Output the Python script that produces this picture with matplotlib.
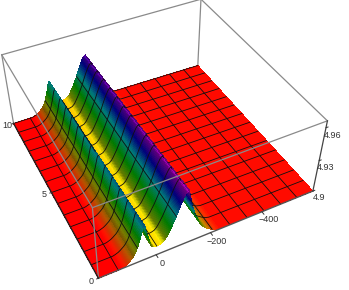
import colorsys
import numpy as np
import matplotlib
matplotlib.use('Agg')
import matplotlib.pyplot as plt

plt.rcParams['font.family'] = 'Liberation Sans'

# profile across the two ridges, z as a fraction of the box height
y_vals = [200, 125, 115, 105, 95, 85, 78, 71, 65, 59, 53, 48, 44, 40, 36, 31, 25, 19, 13, 7, 1, -6,
          -14, -22, -30, -38, -46, -54, -62, -70, -78, -86, -94, -102, -107, -112, -116, -122, -128, -134,
          -140, -146, -154, -162, -170, -178, -188, -198, -210, -226, -610]
z_frac = [0, 0, .01, .025, .05, .08, .11, .15, .20, .26, .33, .40, .45, .47, .42, .34, .25, .17, .135, .125, .12, .12,
          .125, .135, .16, .20, .25, .30, .36, .42, .49, .56, .62, .67, .69, .70, .64, .54, .46, .39,
          .33, .28, .22, .17, .135, .105, .08, .055, .03, .012, 0]
# ridges are a little taller at the front of the box
t_scale_at = [0, 10]
t_scale = [1.08, .97]
# mesh lines across the surface
mesh_y = [132.5, 65, -2.5, -70, -137.5, -205, -272.5, -340, -407.5, -475, -542.5]
mesh_t = [.71, 1.43, 2.14, 2.86, 3.57, 4.29, 5.0, 5.71, 6.43, 7.14, 7.86, 8.57, 9.29, 10]

t_ticks = [0, 5, 10]
y_ticks = [0, -200, -400]
z_ticks = [4.9, 4.93, 4.96]
z_low, z_high = 4.9, 4.966
tl, th, yl, yh = 0, 10, -610, 200
cam = (-16, 664, 5.7)  # camera position in t, y and box height

y_read = np.array(y_vals, dtype=float)
zf_read = np.array(z_frac)


def height(tv, yv):
    return np.interp(yv, y_read[::-1], zf_read[::-1]) * np.interp(tv, t_scale_at, t_scale)


def hidden(tv, yv):
    # walk from the surface towards the camera, height does not change much along t
    z0 = height(tv, yv)
    for a in np.linspace(0, (yh - yv) / (cam[1] - yv), 70)[1:]:
        t2 = tv + (cam[0] - tv) * a
        if t2 < 0:
            break
        y2 = yv + (cam[1] - yv) * a
        if height(t2, y2) > z0 + (cam[2] - z0) * a:
            return True
    return False


# finer strips over the ridges so the colours run smoothly
y = np.concatenate([[yh], np.arange(130, -232, -2.0), [yl]])
t = np.arange(0, 10.5, .5)
Y, T = np.meshgrid(y, t)
Z = z_low + height(T, Y) * (z_high - z_low)

# hue follows height, steep faces go darker
zf = height(5, y) / np.interp(5, t_scale_at, t_scale)
slope = np.abs(np.diff(zf)) / np.abs(np.diff(y))
slope = np.convolve(slope, np.ones(5) / 5, mode='same')
colors = np.zeros((len(t) - 1, len(y) - 1, 4))
for i in range(len(t) - 1):
    s = np.interp(t[i] + .25, t_scale_at, t_scale)
    for j in range(len(y) - 1):
        zm = (zf[j] + zf[j + 1]) / 2 * s
        val = 1 - .52 * np.clip((slope[j] - .0012) / .0033, 0, 1)
        colors[i, j] = (*colorsys.hsv_to_rgb(zm / .9, 1, val), 1)

fig = plt.figure(figsize=(3.49, 2.9), dpi=100)
ax = fig.add_axes([-101 / 349, -89 / 290, 500 / 349, 500 / 290], projection='3d', computed_zorder=False)
ax.set_proj_type('persp', focal_length=.27)
ax.view_init(elev=41.4, azim=153)
ax.set_box_aspect((1, 1, .4), zoom=.66)
ax.set_xlim(tl, th, view_margin=0)
ax.set_ylim(yl, yh, view_margin=0)
ax.set_zlim(z_low, z_high, view_margin=0)
ax.set_axis_off()

# one strip per profile step, far strips first, so a ridge covers what is behind it
for j in range(len(y) - 1):
    ax.plot_surface(T[:, j:j + 2], Y[:, j:j + 2], Z[:, j:j + 2], facecolors=colors[:, j:j + 1],
                    rstride=1, cstride=1, shade=False, linewidth=0, antialiased=False,
                    zorder=2.4 - j * .001)

# mesh, drawn over the surface with the parts behind a ridge left out
line_y = np.arange(yl, yh + 2, 2.0)
for tv in mesh_t:
    zl = height(tv, line_y)
    vis = np.array([not hidden(tv, v) for v in line_y])
    if tv == 10:
        vis = vis & (zl < .03)
    zl = np.where(vis, z_low + zl * (z_high - z_low), np.nan)
    ax.plot(np.full(len(line_y), tv), line_y, zl, color='#101010', lw=.6, zorder=2.5)
line_t = np.arange(tl, th + .05, .05)
for yv in mesh_y:
    zl = height(line_t, yv)
    vis = np.array([not hidden(v, yv) for v in line_t])
    zl = np.where(vis, z_low + zl * (z_high - z_low), np.nan)
    ax.plot(line_t, np.full(len(line_t), yv), zl, color='#101010', lw=.6, zorder=2.5)

# bounding box, back edges under the surface and front edges over it
gray = '#8a8a8a'
back = [([th, th], [yl, yh], [z_high, z_high]), ([th, th], [yl, yl], [z_low, z_high]),
        ([th, th], [yh, yh], [z_low, z_high]), ([tl, th], [yl, yl], [z_high, z_high])]
front = [([tl, tl], [yh, yh], [z_low, z_high]), ([tl, tl], [yl, yh], [z_high, z_high]),
         ([tl, th], [yh, yh], [z_high, z_high])]
for a, b, c in back:
    ax.plot(a, b, c, color=gray, lw=.9, zorder=1)
for a, b, c in front:
    ax.plot(a, b, c, color=gray, lw=.9, zorder=3)
ax.plot([tl, tl], [yl, yl], [z_low, z_high], color='#444444', lw=.9, zorder=3)
ax.plot([tl, tl], [yl, yh], [z_low, z_low], color='#555555', lw=1, zorder=3)
ax.plot([tl, th], [yh, yh], [z_low, z_low], color='#222222', lw=1, zorder=3)

fs = 6.5
for v in t_ticks:
    ax.text(v, 225, z_low, str(v), fontsize=fs, color='#333333', ha='center', va='center', zorder=4)
    ax.plot([v, v], [200, 206], [z_low, z_low], color='#333333', lw=.7, zorder=3)
for v in y_ticks:
    ax.text(-.5, v, z_low, str(v).replace('-', '\u2212'), fontsize=fs, color='#333333', ha='center', va='center', zorder=4)
    ax.plot([0, -.15], [v, v], [z_low, z_low], color='#333333', lw=.7, zorder=3)
for v in z_ticks:
    ax.text(0, -645, v - .01, str(v), fontsize=fs, color='#333333', ha='center', va='center', zorder=4)
    ax.plot([0, 0], [-610, -618], [v, v], color='#333333', lw=.7, zorder=3)

fig.savefig('out.png', dpi=100)
